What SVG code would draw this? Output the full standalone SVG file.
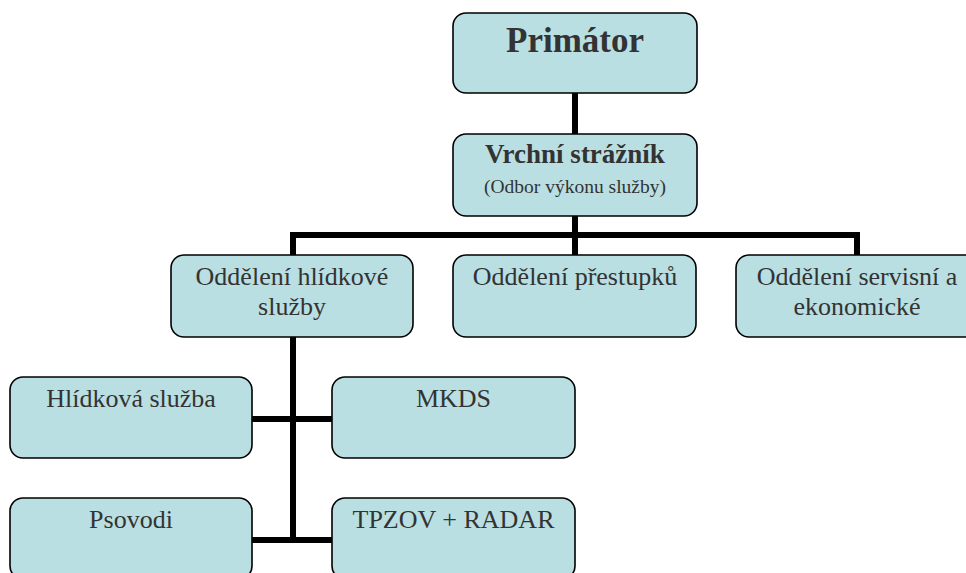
<svg xmlns="http://www.w3.org/2000/svg" width="966" height="573" viewBox="0 0 966 573">
<style>
.box{fill:#b9dfe2;stroke:#000;stroke-width:1.6}
.t{font-family:"Liberation Serif","Times New Roman",serif;font-size:26px;fill:#333;text-anchor:middle}
.b{font-weight:bold}
.con{stroke:#000;stroke-width:6;fill:none}
</style>
<rect width="966" height="573" fill="#fff"/>
<g id="connectors">
<line class="con" x1="575" y1="93" x2="575" y2="134"/>
<line class="con" x1="575" y1="216" x2="575" y2="255"/>
<polyline class="con" points="293,255 293,235 857,235 857,255"/>
<line class="con" x1="293" y1="337" x2="293" y2="543"/>
<line class="con" x1="252" y1="419" x2="332" y2="419"/>
<line class="con" x1="252" y1="540" x2="332" y2="540"/>
</g>
<g id="primator">
<rect class="box" x="453" y="13" width="244" height="80" rx="13"/>
<text class="t b" x="575" y="52" style="font-size:35px">Primátor</text>
</g>
<g id="vrchni">
<rect class="box" x="453" y="134" width="244" height="82" rx="13"/>
<text class="t b" x="575" y="163" style="font-size:27px">Vrchní strážník</text>
<text class="t" x="575" y="193" style="font-size:19.5px">(Odbor výkonu služby)</text>
</g>
<g id="hlidkove">
<rect class="box" x="171" y="255" width="242" height="82" rx="13"/>
<text class="t" x="292" y="285">Oddělení hlídkové</text>
<text class="t" x="292" y="315">služby</text>
</g>
<g id="prestupku">
<rect class="box" x="453" y="255" width="243" height="82" rx="13"/>
<text class="t" x="575" y="285">Oddělení přestupků</text>
</g>
<g id="servisni">
<rect class="box" x="736" y="255" width="243" height="82" rx="13"/>
<text class="t" x="857" y="285">Oddělení servisní a</text>
<text class="t" x="857" y="315">ekonomické</text>
</g>
<g id="hlidkova-sluzba">
<rect class="box" x="10" y="377" width="242" height="81" rx="13"/>
<text class="t" x="131" y="407">Hlídková služba</text>
</g>
<g id="mkds">
<rect class="box" x="332" y="377" width="243" height="81" rx="13"/>
<text class="t" x="453.5" y="407">MKDS</text>
</g>
<g id="psovodi">
<rect class="box" x="10" y="498" width="242" height="81" rx="13"/>
<text class="t" x="131" y="528">Psovodi</text>
</g>
<g id="tpzov">
<rect class="box" x="332" y="498" width="243" height="81" rx="13"/>
<text class="t" x="453.5" y="528">TPZOV + RADAR</text>
</g>
</svg>
